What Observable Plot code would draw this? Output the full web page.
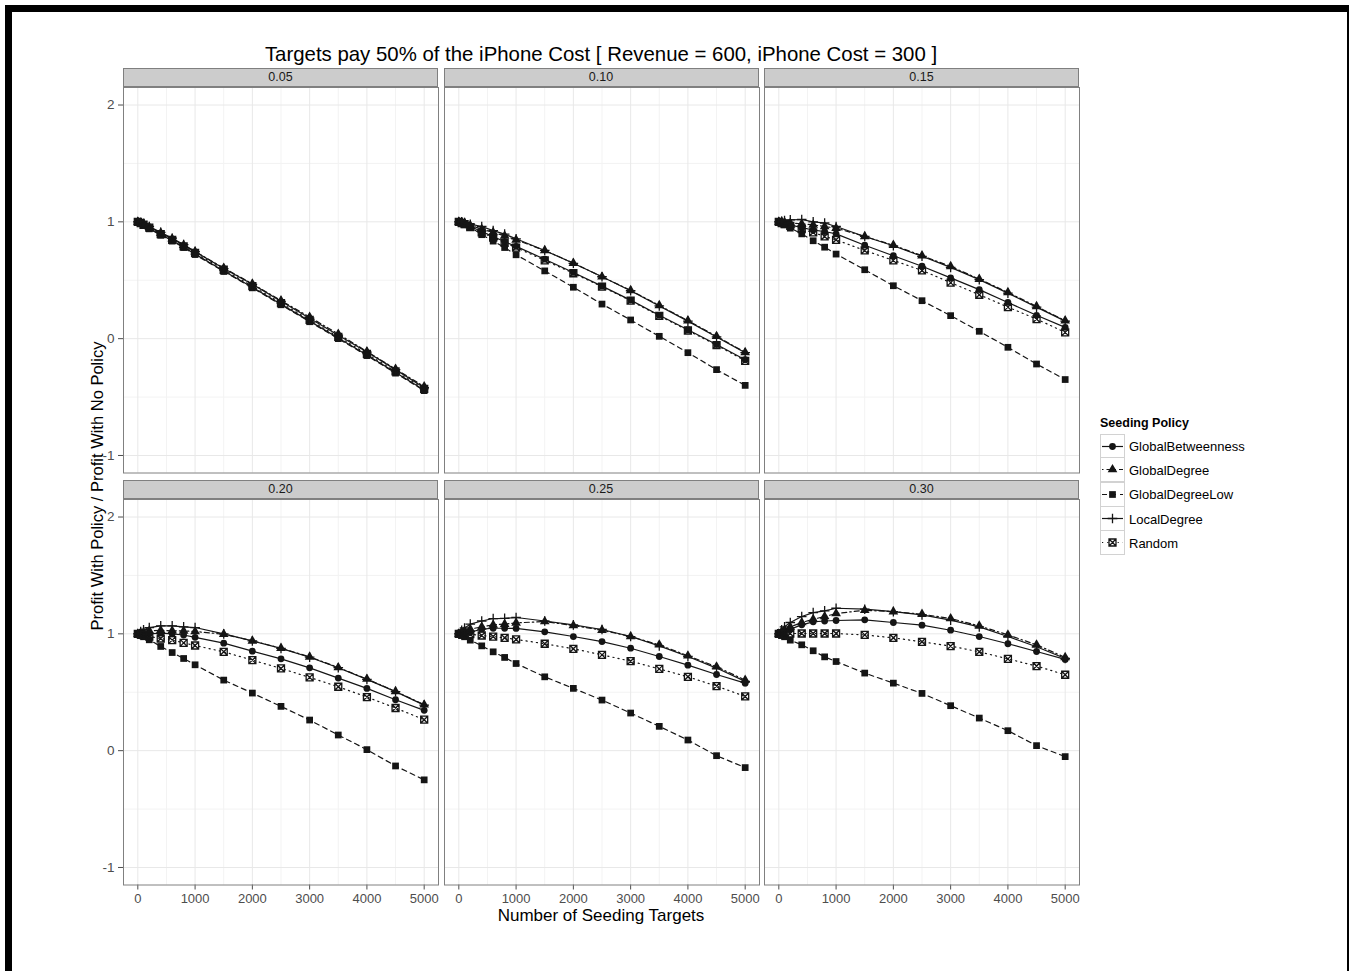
<!DOCTYPE html>
<html><head><meta charset="utf-8">
<script src="https://cdn.jsdelivr.net/npm/d3@7"></script>
<script src="https://cdn.jsdelivr.net/npm/@observablehq/plot@0.6"></script>
<style>
html,body{margin:0;padding:0;background:#fff;}
body{font-family:"Liberation Sans",Arial,Helvetica,sans-serif;}
#root{position:relative;width:1349px;height:971px;overflow:hidden;background:#fff;}
#border{position:absolute;left:5px;top:5px;width:1349px;height:1100px;border:7px solid #000;box-sizing:border-box;}
.abs{position:absolute;}
.strip{position:absolute;height:19px;background:#cccccc;border:1px solid #7f7f7f;box-sizing:border-box;text-align:center;font-size:12.5px;line-height:17px;color:#1a1a1a;}
.panel svg{overflow:visible;}
#title{position:absolute;left:0;width:1202px;top:43px;text-align:center;font-size:20.4px;color:#000;white-space:nowrap;}
#xtitle{position:absolute;left:0;width:1202px;top:906px;text-align:center;font-size:17px;color:#000;white-space:nowrap;}
#ytitle{position:absolute;left:97px;top:486px;transform:translate(-50%,-50%) rotate(-90deg);font-size:16.5px;color:#000;white-space:nowrap;}
#legend{position:absolute;left:1100px;top:416px;}
#legend .lt{font-weight:bold;font-size:12.5px;margin-bottom:4px;color:#000;}
#legend .row{display:flex;align-items:center;height:24.3px;}
#legend .row span{font-size:13px;margin-left:4px;color:#000;}
#legend svg{display:block;}
</style>
</head><body>
<div id="root">
  <div id="border"></div>
  <div id="title">Targets pay 50% of the iPhone Cost [ Revenue = 600, iPhone Cost = 300 ]</div>
  <div id="xtitle">Number of Seeding Targets</div>
  <div id="ytitle">Profit With Policy / Profit With No Policy</div>
  <div id="legend"></div>
</div>
<script>
// ---------------- data ----------------
const facets = ["0.05", "0.10", "0.15", "0.20", "0.25", "0.30"];
const seedingTargets = [0, 50, 100, 200, 400, 600, 800, 1000, 1500, 2000, 2500, 3000, 3500, 4000, 4500, 5000];
const policies = ["GlobalBetweenness", "GlobalDegree", "GlobalDegreeLow", "LocalDegree", "Random"];

// one row per facet (0.05 ... 0.30), one value per seedingTargets entry
const globalBetweenness = [
  [1, 0.99, 0.975, 0.945, 0.89, 0.84, 0.785, 0.725, 0.58, 0.44, 0.295, 0.15, 0.005, -0.14, -0.29, -0.44],
  [1, 0.99, 0.98, 0.96, 0.917, 0.875, 0.83, 0.79, 0.68, 0.567, 0.45, 0.33, 0.2, 0.077, -0.05, -0.18],
  [1, 0.995, 0.99, 0.974, 0.95, 0.93, 0.917, 0.897, 0.80, 0.71, 0.62, 0.52, 0.42, 0.31, 0.2, 0.097],
  [1, 1.0, 1.0, 1.0, 1.006, 1.0, 0.99, 0.97, 0.92, 0.852, 0.786, 0.709, 0.621, 0.533, 0.436, 0.345],
  [1, 1.005, 1.01, 1.014, 1.04, 1.048, 1.048, 1.046, 1.017, 0.977, 0.934, 0.877, 0.806, 0.732, 0.652, 0.578],
  [1, 1.015, 1.025, 1.04, 1.077, 1.103, 1.11, 1.114, 1.12, 1.097, 1.074, 1.031, 0.977, 0.915, 0.849, 0.781]
];
const globalDegree = [
  [1, 0.99, 0.98, 0.955, 0.905, 0.855, 0.80, 0.745, 0.605, 0.47, 0.325, 0.185, 0.04, -0.11, -0.26, -0.41],
  [1, 0.995, 0.99, 0.97, 0.937, 0.91, 0.88, 0.846, 0.755, 0.647, 0.53, 0.413, 0.285, 0.154, 0.02, -0.117],
  [1, 1.0, 0.995, 0.99, 0.983, 0.974, 0.96, 0.946, 0.875, 0.80, 0.71, 0.618, 0.51, 0.396, 0.276, 0.154],
  [1, 1.01, 1.015, 1.026, 1.03, 1.026, 1.025, 1.02, 0.997, 0.94, 0.877, 0.803, 0.712, 0.613, 0.507, 0.393],
  [1, 1.015, 1.025, 1.04, 1.06, 1.077, 1.083, 1.094, 1.105, 1.071, 1.031, 0.977, 0.906, 0.812, 0.718, 0.604],
  [1, 1.02, 1.035, 1.06, 1.097, 1.125, 1.148, 1.174, 1.202, 1.19, 1.168, 1.131, 1.068, 0.991, 0.906, 0.798]
];
const globalDegreeLow = [
  [1, 0.985, 0.97, 0.94, 0.885, 0.835, 0.78, 0.72, 0.575, 0.435, 0.29, 0.145, 0.0, -0.145, -0.295, -0.445],
  [1, 0.99, 0.975, 0.955, 0.89, 0.835, 0.78, 0.718, 0.58, 0.44, 0.296, 0.16, 0.02, -0.12, -0.265, -0.40],
  [1, 0.985, 0.975, 0.946, 0.897, 0.838, 0.783, 0.724, 0.59, 0.453, 0.325, 0.197, 0.063, -0.074, -0.217, -0.35],
  [1, 0.985, 0.975, 0.949, 0.892, 0.84, 0.789, 0.735, 0.604, 0.493, 0.379, 0.262, 0.134, 0.009, -0.131, -0.25],
  [1, 0.985, 0.975, 0.946, 0.897, 0.846, 0.798, 0.746, 0.632, 0.533, 0.433, 0.322, 0.208, 0.091, -0.043, -0.145],
  [1, 0.985, 0.975, 0.946, 0.906, 0.855, 0.803, 0.763, 0.664, 0.578, 0.49, 0.385, 0.279, 0.171, 0.043, -0.051]
];
const localDegree = [
  [1, 0.995, 0.985, 0.96, 0.91, 0.86, 0.805, 0.745, 0.60, 0.465, 0.32, 0.175, 0.03, -0.115, -0.265, -0.42],
  [1, 1.0, 0.995, 0.98, 0.96, 0.925, 0.895, 0.855, 0.755, 0.645, 0.53, 0.41, 0.28, 0.15, 0.015, -0.12],
  [1, 1.005, 1.01, 1.017, 1.02, 1.0, 0.99, 0.96, 0.875, 0.795, 0.705, 0.61, 0.505, 0.39, 0.27, 0.15],
  [1, 1.02, 1.035, 1.054, 1.068, 1.068, 1.06, 1.054, 1.0, 0.94, 0.875, 0.80, 0.71, 0.61, 0.505, 0.39],
  [1, 1.03, 1.05, 1.083, 1.11, 1.131, 1.133, 1.14, 1.11, 1.077, 1.037, 0.977, 0.897, 0.806, 0.707, 0.593],
  [1, 1.035, 1.06, 1.097, 1.148, 1.182, 1.197, 1.219, 1.211, 1.19, 1.162, 1.117, 1.06, 0.977, 0.889, 0.789]
];
const random = [
  [1, 0.99, 0.975, 0.95, 0.895, 0.845, 0.79, 0.735, 0.59, 0.45, 0.305, 0.16, 0.015, -0.13, -0.28, -0.43],
  [1, 0.99, 0.98, 0.955, 0.91, 0.865, 0.82, 0.78, 0.67, 0.56, 0.445, 0.325, 0.195, 0.07, -0.055, -0.19],
  [1, 0.99, 0.98, 0.966, 0.937, 0.91, 0.875, 0.846, 0.755, 0.67, 0.584, 0.48, 0.376, 0.27, 0.168, 0.054],
  [1, 0.995, 0.99, 0.977, 0.96, 0.946, 0.923, 0.9, 0.846, 0.775, 0.704, 0.627, 0.547, 0.459, 0.365, 0.265],
  [1, 1.0, 1.0, 0.997, 0.986, 0.977, 0.966, 0.952, 0.915, 0.872, 0.82, 0.766, 0.70, 0.632, 0.553, 0.464],
  [1, 1.0, 1.0, 1.003, 1.003, 1.003, 1.003, 1.003, 0.991, 0.966, 0.932, 0.895, 0.846, 0.786, 0.724, 0.65]
];

const xTicks = [0, 1000, 2000, 3000, 4000, 5000];
const xMinorTicks = [500, 1500, 2500, 3500, 4500];
const yTicks = [-1, 0, 1, 2];
const yMinorTicks = [-0.5, 0.5, 1.5];

// ---------------- styling ----------------
const plusSymbol = {draw(ctx, size) { const r = Math.sqrt(size / Math.PI); ctx.moveTo(-r, 0); ctx.lineTo(r, 0); ctx.moveTo(0, -r); ctx.lineTo(0, r); }};
const boxXSymbol = {draw(ctx, size) { const r = Math.sqrt(size / Math.PI);
  ctx.moveTo(-r, -r); ctx.lineTo(r, -r); ctx.lineTo(r, r); ctx.lineTo(-r, r); ctx.closePath();
  ctx.moveTo(-r, -r); ctx.lineTo(r, r); ctx.moveTo(r, -r); ctx.lineTo(-r, r); }};
const INK = "#151515";
const seriesStyle = {
  GlobalBetweenness: {values: globalBetweenness, dash: null, symbol: d3.symbolCircle, r: 3.4, filled: true},
  GlobalDegree: {values: globalDegree, dash: "1.5,3,5,3", symbol: d3.symbolTriangle, r: 3.6, filled: true},
  GlobalDegreeLow: {values: globalDegreeLow, dash: "5,4", symbol: d3.symbolSquare, r: 3.8, filled: true},
  LocalDegree: {values: localDegree, dash: null, symbol: plusSymbol, r: 4.8, filled: false},
  Random: {values: random, dash: "1.2,4", symbol: boxXSymbol, r: 3.5, filled: false}
};

// ---------------- layout ----------------
const colLeft = [123, 443.5, 764];
const rowTop = [87, 498.5];
const PW = 315, PH = 385.5;
const root = document.getElementById("root");

facets.forEach((facet, fi) => {
  const col = fi % 3, row = Math.floor(fi / 3);
  const rows = [];
  policies.forEach(p => {
    seriesStyle[p].values[fi].forEach((v, i) => rows.push({policy: p, x: seedingTargets[i], y: v}));
  });
  const ml = col === 0 ? 50 : 1, mb = row === 1 ? 40 : 1, mt = 1, mr = 1;
  const marks = [
    Plot.ruleX(xMinorTicks, {stroke: "#f3f3f3", strokeWidth: 1}),
    Plot.ruleY(yMinorTicks, {stroke: "#f3f3f3", strokeWidth: 1}),
    Plot.ruleX(xTicks, {stroke: "#e8e8e8", strokeWidth: 1}),
    Plot.ruleY(yTicks, {stroke: "#e8e8e8", strokeWidth: 1})
  ];
  policies.forEach(p => {
    const s = seriesStyle[p];
    marks.push(Plot.line(rows.filter(d => d.policy === p), {x: "x", y: "y", stroke: INK, strokeWidth: 1.2, strokeDasharray: s.dash}));
  });
  policies.forEach(p => {
    const s = seriesStyle[p];
    marks.push(Plot.dot(rows.filter(d => d.policy === p), {x: "x", y: "y", symbol: s.symbol, r: s.r,
      fill: s.filled ? INK : "none", stroke: s.filled ? "none" : INK, strokeWidth: s.filled ? 0 : 1.3}));
  });
  if (col === 0) marks.push(Plot.axisY(yTicks, {tickSize: 5, tickPadding: 4, fontSize: 13.5, color: "#4d4d4d", label: null, tickFormat: d => String(d)}));
  if (row === 1) marks.push(Plot.axisX(xTicks, {tickSize: 5, tickPadding: 4, fontSize: 13, color: "#4d4d4d", label: null, tickFormat: d => String(d)}));
  marks.push(Plot.frame({stroke: "#808080", strokeWidth: 1}));

  const svg = Plot.plot({
    width: ml + PW + mr, height: mt + PH + mb,
    marginLeft: ml, marginRight: mr, marginTop: mt, marginBottom: mb,
    x: {domain: [-250, 5250], axis: null},
    y: {domain: [-1.15, 2.15], axis: null},
    style: {background: "transparent", fontFamily: "'Liberation Sans', Arial, sans-serif", fontSize: "13px", overflow: "visible", maxWidth: "none"},
    marks
  });
  const wrap = document.createElement("div");
  wrap.className = "abs panel";
  wrap.style.left = (colLeft[col] - ml) + "px";
  wrap.style.top = (rowTop[row] - mt) + "px";
  wrap.appendChild(svg);
  root.appendChild(wrap);

  const strip = document.createElement("div");
  strip.className = "strip";
  strip.style.left = colLeft[col] + "px";
  strip.style.top = (rowTop[row] - 19) + "px";
  strip.style.width = PW + "px";
  strip.textContent = facet;
  root.appendChild(strip);
});

// ---------------- legend ----------------
const legend = d3.select("#legend");
legend.append("div").attr("class", "lt").text("Seeding Policy");
policies.forEach((p, i) => {
  const s = seriesStyle[p];
  const r = legend.append("div").attr("class", "row");
  const svg = r.append("svg").attr("width", 25).attr("height", 25).style("margin-top", i ? "-1px" : "0");
  svg.append("rect").attr("x", 0.5).attr("y", 0.5).attr("width", 24).attr("height", 24).attr("fill", "#fff").attr("stroke", "#d2d2d2");
  svg.append("line").attr("x1", 2).attr("x2", 23).attr("y1", 12.5).attr("y2", 12.5).attr("stroke", INK).attr("stroke-width", 1.2)
    .attr("stroke-dasharray", s.dash);
  svg.append("path").attr("transform", "translate(12.5,12.5)")
    .attr("d", d3.symbol(s.symbol, Math.PI * s.r * s.r)())
    .attr("fill", s.filled ? INK : "none").attr("stroke", s.filled ? "none" : INK).attr("stroke-width", s.filled ? 0 : 1.3);
  r.append("span").text(p);
});
</script>
</body></html>
